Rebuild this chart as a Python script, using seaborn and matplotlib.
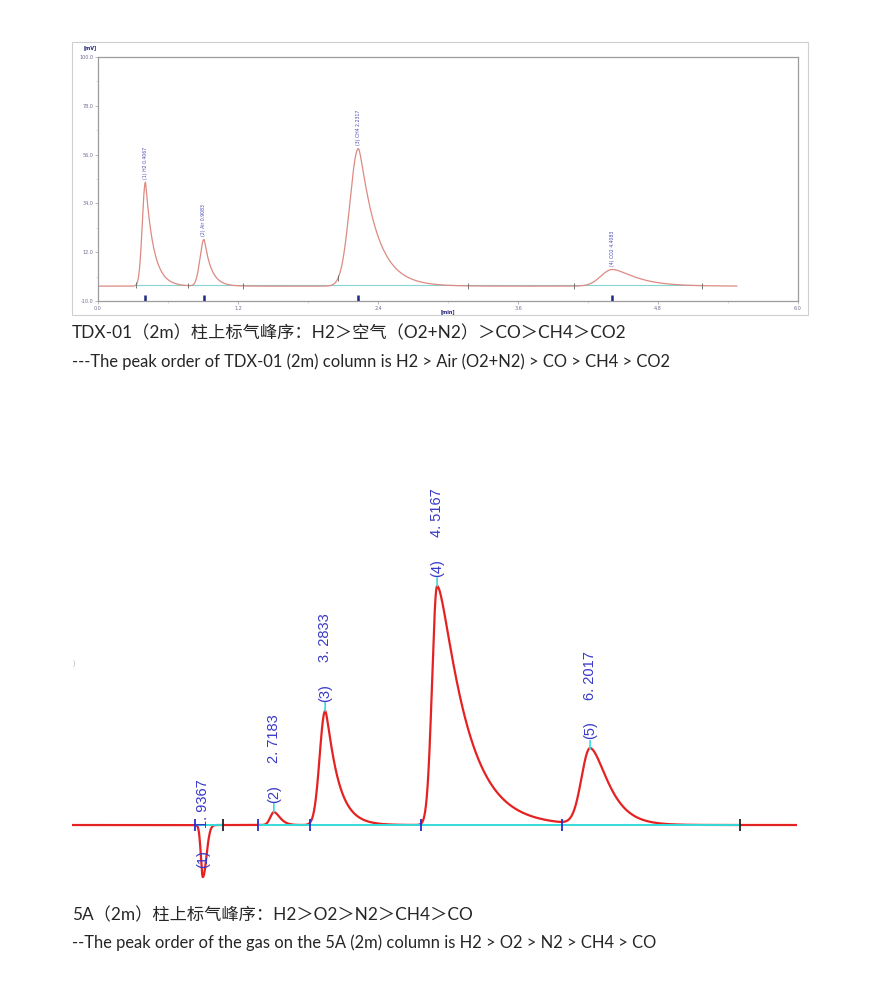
import numpy as np
import pandas as pd
import matplotlib
matplotlib.use('Agg')
from matplotlib import pyplot as plt
from matplotlib.patches import Rectangle
import seaborn as sns

# ---- TDX-01 (2m) column, peak table ----
tdx_names = ['(1) H2', '(2) Air', '(3) CH4', '(4) CO2']
tdx_rt = [0.4067, 0.9083, 2.2317, 4.4083]          # min
tdx_height = [46.9, 21.0, 62.0, 7.5]                # mV above baseline
tdx_rise = [0.027, 0.034, 0.073, 0.097]             # front width
tdx_sigma = [0.008, 0.012, 0.040, 0.117]            # back width
tdx_tail = [0.069, 0.060, 0.147, 0.181]             # tailing
tdx_baseline = -3.3
tdx_span = [0.0, 5.477]
tdx_events = [0.326, 0.771, 1.243, 2.057, 3.171, 4.080, 5.177]
tdx_xticks = [0.0, 1.2, 2.4, 3.6, 4.8, 6.0]
tdx_yticks = [-10.0, 12.0, 34.0, 56.0, 78.0, 100.0]

# ---- 5A (2m) column ----
a5_labels = ['(1)', '(2)', '(3)', '(4)', '(5)']
a5_rt = [1.9367, 2.7183, 3.2833, 4.5167, 6.2017]
a5_height = [-21.8, 5.4, 47.7, 100.0, 31.8]
a5_rise = [0.022, 0.039, 0.060, 0.055, 0.094]
a5_sigma = [0.039, 0.055, 0.044, 0.123, 0.138]
a5_tail = [0.0, 0.033, 0.128, 0.286, 0.149]
a5_span = [0.495, 8.481]
a5_events = [1.850, 2.158, 2.544, 3.117, 4.340, 5.893, 7.853]
a5_event_end = [False, True, False, False, False, False, True]
a5_base_segments = [(1.850, 2.158), (2.544, 7.853)]

caption_font = ['Lato', 'Noto Sans CJK SC', 'DejaVu Sans']


def peak(t, rt, h, rise, sigma, tail):
    dt = np.asarray(t, dtype=float) - rt
    y = np.zeros_like(dt)
    left = dt < 0
    y[left] = np.exp(-0.5 * (dt[left] / rise) ** 2)
    r = ~left
    y[r] = np.exp(-dt[r] ** 2 / (2 * sigma ** 2 + tail * dt[r]))
    return h * y


def trace(t, base, rts, hs, rises, sigmas, tails):
    s = np.full_like(np.asarray(t, dtype=float), base)
    for p in zip(rts, hs, rises, sigmas, tails):
        s = s + peak(t, *p)
    return s


sns.set_style('white')
plt.rcParams['font.family'] = caption_font

W, H = 883, 991
fig = plt.figure(figsize=(W / 100, H / 100), dpi=100)

# ================= top chromatogram =================
fig.add_artist(Rectangle((72 / W, 1 - 315 / H), 736 / W, 273 / H, transform=fig.transFigure,
                         fill=False, ec='#cfcfcf', lw=0.8))
ax1 = fig.add_axes([98 / W, 1 - 301 / H, 700 / W, 244 / H])
t1 = np.linspace(tdx_span[0], tdx_span[1], 3000)
df1 = pd.DataFrame({'min': t1, 'mV': trace(t1, tdx_baseline, tdx_rt, tdx_height,
                                            tdx_rise, tdx_sigma, tdx_tail)})
ax1.hlines(tdx_baseline + 0.4, tdx_events[0], tdx_events[-1], color='#86d4d4', lw=0.8, zorder=1)
sns.lineplot(data=df1, x='min', y='mV', ax=ax1, color='#dc8a82', lw=0.9, sort=False,
             estimator=None, zorder=2)
ev = trace(tdx_events, tdx_baseline, tdx_rt, tdx_height, tdx_rise, tdx_sigma, tdx_tail)
ax1.vlines(tdx_events, ev - 1.3, ev + 1.3, color='#666666', lw=0.6, zorder=3)
ax1.vlines(tdx_rt, -10, -7.4, color='#1f2a80', lw=1.8, zorder=3)
for name, rt, h in zip(tdx_names, tdx_rt, tdx_height):
    ax1.annotate(f'{name} {rt:.4f}', xy=(rt, tdx_baseline + h), xytext=(0, 2.5),
                 textcoords='offset points', rotation=90, ha='center', va='bottom',
                 fontsize=3.3, color='#4a4ab8', family='DejaVu Sans')
ax1.set_xlim(0, 6.0)
ax1.set_ylim(-10, 100)
ax1.set_xticks(tdx_xticks)
ax1.set_yticks(tdx_yticks)
ax1.set_xticklabels([f'{v:.1f}' for v in tdx_xticks])
ax1.set_yticklabels([f'{v:.1f}' for v in tdx_yticks])
ax1.set_xticks(np.array(tdx_xticks[:-1]) + 0.6, minor=True)
ax1.set_yticks(np.array(tdx_yticks[:-1]) + 11, minor=True)
ax1.tick_params(which='both', length=2, width=0.5, color='#9a9a9a', labelsize=3.5,
                labelcolor='#6f6f90', pad=1.5, bottom=True, left=True)
ax1.tick_params(which='minor', length=1.2, color='#cfcfcf')
for lab in ax1.get_xticklabels() + ax1.get_yticklabels():
    lab.set_family('DejaVu Sans')
ax1.set_xlabel('')
ax1.set_ylabel('')
for s in ax1.spines.values():
    s.set_color('#9c9c9c')
    s.set_linewidth(0.9)
fig.text(90 / W, 1 - 48 / H, '[mV]', fontsize=3.5, color='#22227a', weight='bold',
         ha='center', va='center', family='DejaVu Sans')
fig.text(448 / W, 1 - 312 / H, '[min]', fontsize=3.5, color='#22227a', weight='bold',
         ha='center', va='center', family='DejaVu Sans')

fig.text(72 / W, 1 - 333 / H, 'TDX-01（2m）柱上标气峰序：H2＞空气（O2+N2）＞CO＞CH4＞CO2',
         fontsize=12.4, va='center', ha='left', family=caption_font)
fig.text(72 / W, 1 - 362 / H,
         '---The peak order of TDX-01 (2m) column is H2 > Air (O2+N2) > CO > CH4 > CO2',
         fontsize=11.9, va='center', ha='left', family=caption_font)

# ================= bottom chromatogram =================
ax2 = fig.add_axes([72 / W, 1 - 890 / H, 725 / W, 410 / H])
t2 = np.linspace(a5_span[0], a5_span[1], 4000)
df2 = pd.DataFrame({'min': t2, 'mV': trace(t2, 0.0, a5_rt, a5_height, a5_rise,
                                            a5_sigma, np.maximum(a5_tail, 1e-4))})
sns.lineplot(data=df2, x='min', y='mV', ax=ax2, color='#e52222', lw=1.6, sort=False,
             estimator=None, zorder=2)
cyan = '#35dcdc'
for a, b in a5_base_segments:
    ax2.hlines(0, a, b, color=cyan, lw=1.4, zorder=3)
for t, end in zip(a5_events, a5_event_end):
    ax2.vlines(t, -2.6, 2.6, color='#222222' if end else '#2b2bd0', lw=1.3, zorder=4)
for lab, rt, h in zip(a5_labels, a5_rt, a5_height):
    if h > 0:
        ax2.annotate('', xy=(rt, h), xytext=(0, 6), textcoords='offset points',
                     arrowprops=dict(arrowstyle='-', color=cyan, lw=1.2, shrinkA=0, shrinkB=0))
    ax2.annotate(lab, xy=(rt, h), xytext=(0, 13.3), textcoords='offset points', rotation=90,
                 ha='center', va='center', fontsize=10.5, color='#3838c8',
                 family='Liberation Sans', zorder=5)
    ax2.annotate(f'{rt:.4f}'.replace('.', '. '), xy=(rt, h), xytext=(0, 52.6),
                 textcoords='offset points', rotation=90, ha='center', va='center',
                 fontsize=10.5, color='#3838c8', family='Liberation Sans', zorder=5)
ax2.set_xlim(*a5_span)
ax2.set_ylim(-27.2, 144.4)
ax2.axis('off')

fig.text(73 / W, 1 - 663 / H, ')', fontsize=6, color='#b8b8b8', va='center', ha='left')
fig.text(72 / W, 1 - 915 / H, '5A（2m）柱上标气峰序：H2＞O2＞N2＞CH4＞CO',
         fontsize=12.4, va='center', ha='left', family=caption_font)
fig.text(72 / W, 1 - 943 / H,
         '--The peak order of the gas on the 5A (2m) column is H2 > O2 > N2 > CH4 > CO',
         fontsize=11.9, va='center', ha='left', family=caption_font)

fig.savefig('out.png', dpi=100)
